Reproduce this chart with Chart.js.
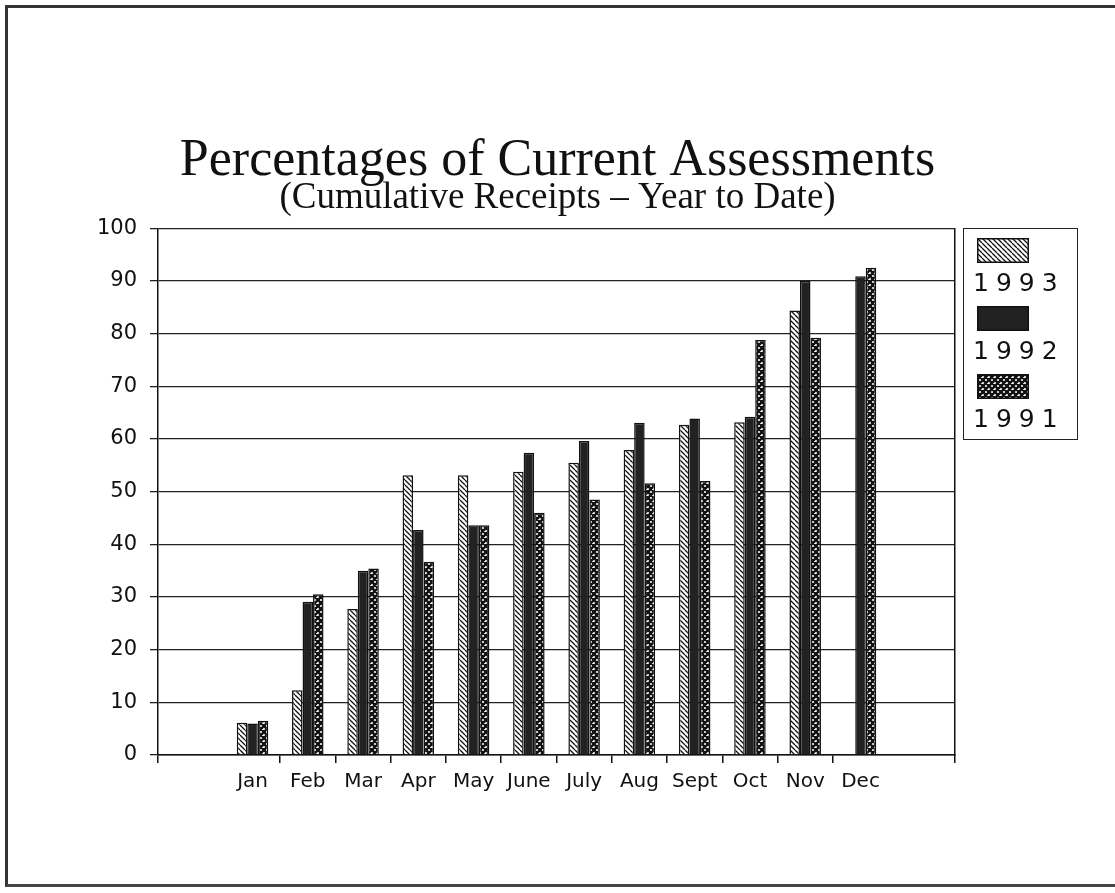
<!DOCTYPE html>
<html>
<head>
<meta charset="utf-8">
<script src="https://cdn.jsdelivr.net/npm/chart.js@4.4.1/dist/chart.umd.min.js"></script>
<style>
  body { margin: 0; background: #fff; }
  #wrap { position: relative; width: 1115px; height: 893px; overflow: hidden; }
  #frame { position: absolute; left: 5px; top: 5px; width: 1115px; height: 876px;
           border-left: 3px solid #333; border-top: 3px solid #333; border-bottom: 3px solid #444; }
  #legend { position: absolute; left: 963px; top: 228px; width: 113px; height: 210px;
            border: 1.5px solid #222; font-family: "DejaVu Sans", sans-serif; }
  .item canvas { display: block; margin: 9px 0 0 13px; }
  .item span { display: block; font-size: 25px; letter-spacing: 7px; color: #111; margin-top: 5px; margin-left: 9px; }
</style>
</head>
<body>
<div id="wrap">
  <canvas id="chart" width="1115" height="893"></canvas>
  <div id="frame"></div>
  <div id="legend"></div>
</div>
<script>
const months = ['Jan', 'Feb', 'Mar', 'Apr', 'May', 'June', 'July', 'Aug', 'Sept', 'Oct', 'Nov', 'Dec'];
const years = ['1993', '1992', '1991'];
const y1993 = [6.1, 12.3, 27.7, 53.1, 53.1, 53.8, 55.5, 57.9, 62.7, 63.2, 84.4, null];
const y1992 = [6.0, 29.1, 35.0, 42.7, 43.6, 57.4, 59.6, 63.1, 63.9, 64.2, 90.0, 90.9];
const y1991 = [6.5, 30.5, 35.4, 36.7, 43.6, 46.0, 48.5, 51.6, 52.0, 78.8, 79.2, 92.5];
const yTicks = [0, 10, 20, 30, 40, 50, 60, 70, 80, 90, 100];

// fill patterns, one per series
function makeFill(ctx, kind) {
    if (kind == 'solid') return '#222';
    let tile = document.createElement('canvas');
    let s = kind == 'hatch' ? 5 : 6;
    tile.width = s; tile.height = s;
    let t = tile.getContext('2d');
    t.fillStyle = '#fff';
    t.fillRect(0, 0, s, s);
    t.strokeStyle = '#111';
    t.lineWidth = kind == 'hatch' ? 1.3 : 2.4;
    t.beginPath();
    for (let k = -s; k <= s; k += s) {
        t.moveTo(k, 0); t.lineTo(k + s, s);
        if (kind == 'cross') { t.moveTo(k + s, 0); t.lineTo(k, s); }
    }
    t.stroke();
    return ctx.createPattern(tile, 'repeat');
}

const kinds = ['hatch', 'solid', 'cross'];
const series = [y1993, y1992, y1991];
const canvas = document.getElementById('chart');
const ctx = canvas.getContext('2d');

let datasets = series.map((vals, s) => ({
    label: years[s],
    data: vals.map((v, i) => ({ x: i + 1, y: v })),
    backgroundColor: makeFill(ctx, kinds[s]),
    borderColor: '#111',
    borderWidth: 1.5,
    categoryPercentage: 0.57,
    barPercentage: 1.0
}));

let chart = new Chart(canvas, {
    type: 'bar',
    data: { datasets: datasets },
    options: {
        responsive: false,
        animation: false,
        layout: { padding: { top: 143, right: 0, left: 0, bottom: 0 } },
        plugins: {
            legend: { display: false },
            tooltip: { enabled: false },
            title: {
                display: true,
                text: 'Percentages of Current Assessments',
                color: '#111',
                font: { family: 'Liberation Serif', size: 52, weight: 'normal', lineHeight: 0.7 },
                padding: { top: 0, bottom: 6 }
            },
            subtitle: {
                display: true,
                text: '(Cumulative Receipts \u2013 Year to Date)',
                color: '#111',
                font: { family: 'Liberation Serif', size: 37, weight: 'normal', lineHeight: 0.7 },
                padding: { top: 0, bottom: 17 }
            }
        },
        scales: {
            x: {
                type: 'linear',
                offset: false,
                min: -0.71,
                max: 13.71,
                afterBuildTicks: (scale) => {
                    scale.ticks = [scale.min, ...months.map((m, i) => i + 1.5), scale.max].map(v => ({ value: v }));
                },
                afterFit: (scale) => { scale.height = 138; },
                ticks: {
                    autoSkip: false,
                    maxRotation: 0,
                    labelOffset: -27.6,
                    padding: 7,
                    color: '#111',
                    font: { family: 'DejaVu Sans', size: 20 },
                    callback: (v, i) => (i >= 1 && i <= months.length) ? months[i - 1] : ''
                },
                grid: {
                    offset: false,
                    drawOnChartArea: false,
                    tickLength: 8,
                    lineWidth: 1.5,
                    color: (c) => c.index == months.length ? 'rgba(0,0,0,0)' : '#111'
                },
                border: { display: true, color: '#111', width: 1.5 }
            },
            y: {
                min: 0,
                max: 100,
                afterBuildTicks: (scale) => { scale.ticks = yTicks.map(v => ({ value: v })); },
                afterFit: (scale) => { scale.width = 158; },
                ticks: {
                    padding: 13,
                    color: '#111',
                    font: { family: 'DejaVu Sans', size: 21 }
                },
                grid: { color: '#222', lineWidth: 1.3, tickLength: 8 },
                border: { display: true, color: '#111', width: 1.5 }
            },
            y2: {
                position: 'right',
                min: 0,
                max: 100,
                // room for the legend box on the right
                afterFit: (scale) => { scale.width = 160; },
                ticks: { display: false },
                grid: { drawOnChartArea: false, drawTicks: false },
                border: { display: true, color: '#111', width: 1.5 }
            }
        }
    }
});

// legend box: swatch above the year, as in the original
let legend = document.getElementById('legend');
chart.data.datasets.forEach((ds, s) => {
    let item = document.createElement('div');
    item.className = 'item';
    let sw = document.createElement('canvas');
    sw.width = 52; sw.height = 25;
    let sc = sw.getContext('2d');
    sc.fillStyle = makeFill(sc, kinds[s]);
    sc.fillRect(0, 0, 52, 25);
    sc.strokeStyle = '#111';
    sc.lineWidth = 1.5;
    sc.strokeRect(0.75, 0.75, 50.5, 23.5);
    let label = document.createElement('span');
    label.textContent = ds.label;
    item.appendChild(sw);
    item.appendChild(label);
    legend.appendChild(item);
});
</script>
</body>
</html>
